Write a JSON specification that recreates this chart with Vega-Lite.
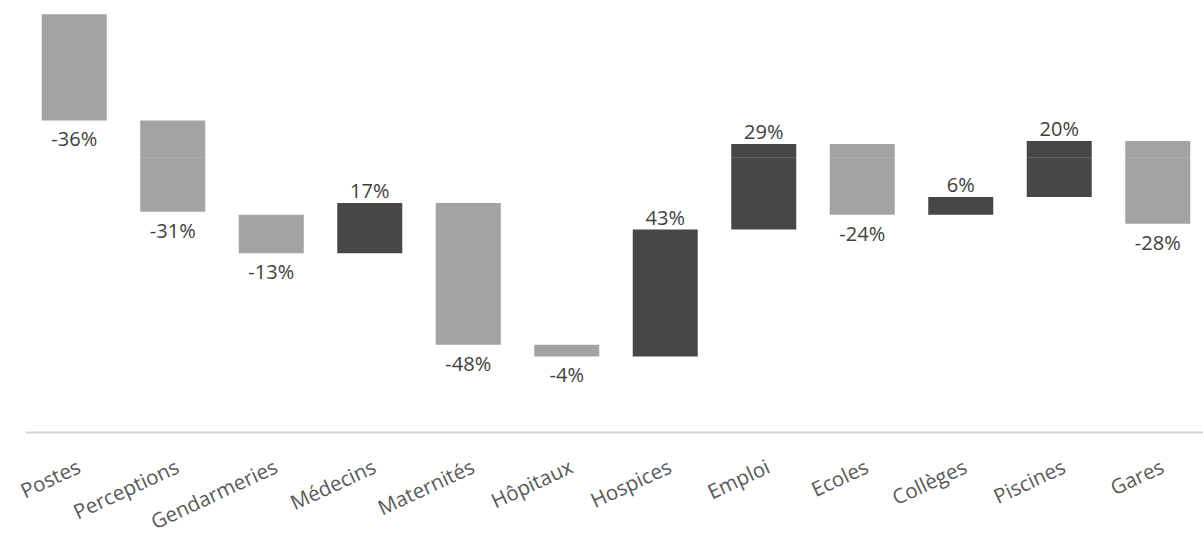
{
  "$schema": "https://vega.github.io/schema/vega-lite/v6.json",
  "width": 1182,
  "height": 432,
  "padding": {"left": 25, "top": 0, "right": 0, "bottom": 108},
  "autosize": {"type": "none"},
  "background": "#ffffff",
  "config": {"view": {"stroke": null}, "font": "Open Sans"},
  "data": {
    "values": [
      {"cat": "Postes", "start": 0, "end": -36, "label": "-36%", "kind": "neg"},
      {"cat": "Perceptions", "start": -36, "end": -67, "label": "-31%", "kind": "neg"},
      {"cat": "Gendarmeries", "start": -68, "end": -81, "label": "-13%", "kind": "neg"},
      {"cat": "Médecins", "start": -81, "end": -64, "label": "17%", "kind": "pos"},
      {"cat": "Maternités", "start": -64, "end": -112, "label": "-48%", "kind": "neg"},
      {"cat": "Hôpitaux", "start": -112, "end": -116, "label": "-4%", "kind": "neg"},
      {"cat": "Hospices", "start": -116, "end": -73, "label": "43%", "kind": "pos"},
      {"cat": "Emploi", "start": -73, "end": -44, "label": "29%", "kind": "pos"},
      {"cat": "Ecoles", "start": -44, "end": -68, "label": "-24%", "kind": "neg"},
      {"cat": "Collèges", "start": -68, "end": -62, "label": "6%", "kind": "pos"},
      {"cat": "Piscines", "start": -62, "end": -43, "label": "20%", "kind": "pos"},
      {"cat": "Gares", "start": -43, "end": -71, "label": "-28%", "kind": "neg"}
    ]
  },
  "encoding": {
    "x": {
      "field": "cat", "type": "nominal", "sort": null,
      "scale": {"paddingInner": 0.34, "paddingOuter": 0.17},
      "axis": {
        "title": null, "ticks": false, "domainColor": "#d4d4d4", "domainWidth": 2,
        "labelAngle": -25, "labelAlign": "right", "labelBaseline": "top",
        "labelPadding": 25, "labelOffset": 1, "labelFontSize": 20.5, "labelColor": "#595959",
        "labelFont": "Open Sans"
      }
    }
  },
  "layer": [
    {
      "mark": {"type": "bar"},
      "encoding": {
        "y": {"field": "start", "type": "quantitative",
              "scale": {"domain": [-141.6, 4.8], "nice": false, "zero": false},
              "axis": {"title": null, "labels": false, "ticks": false, "domain": false,
                       "grid": true, "values": [-48.5], "gridColor": "#ffffff", "gridOpacity": 0.15, "zindex": 1}},
        "y2": {"field": "end"},
        "color": {"field": "kind", "type": "nominal",
                  "scale": {"domain": ["neg", "pos"], "range": ["#a3a3a3", "#474747"]},
                  "legend": null}
      }
    },
    {
      "transform": [{"filter": "datum.kind === 'neg'"}],
      "mark": {"type": "text", "baseline": "top", "dy": 10, "fontSize": 20, "color": "#404040"},
      "encoding": {
        "y": {"field": "end", "type": "quantitative"},
        "text": {"field": "label"}
      }
    },
    {
      "transform": [{"filter": "datum.kind === 'pos'"}],
      "mark": {"type": "text", "baseline": "alphabetic", "dy": -5, "fontSize": 20, "color": "#404040"},
      "encoding": {
        "y": {"field": "end", "type": "quantitative"},
        "text": {"field": "label"}
      }
    }
  ]
}
